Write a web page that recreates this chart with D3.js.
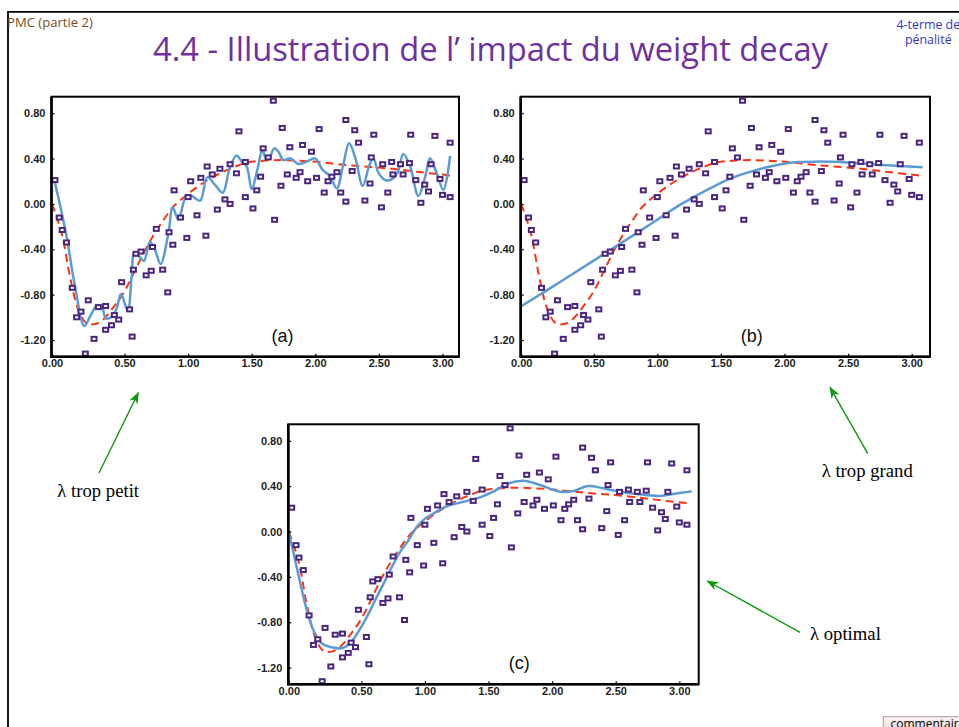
<!DOCTYPE html>
<html><head><meta charset="utf-8">
<script src="https://cdn.jsdelivr.net/npm/d3@7"></script>
<style>body{margin:0;background:#fff}</style>
</head><body><svg id="c" width="959" height="727"></svg>
<script>
// ---------- data ----------
const xTicks = [0, 0.5, 1, 1.5, 2, 2.5, 3];
const yTicks = [-1.2, -0.8, -0.4, 0, 0.4, 0.8];
const panelNames = ["(a)", "(b)", "(c)"];
const noteTexts = ["λ trop petit", "λ trop grand", "λ optimal"];

const pointX = [0.02,0.05,0.07,0.10,0.14,0.17,0.20,0.23,0.25,0.29,
0.32,0.37,0.37,0.41,0.43,0.46,0.48,0.54,0.56,0.57,
0.59,0.63,0.67,0.71,0.72,0.75,0.80,0.84,0.85,0.88,
0.89,0.94,0.99,1.00,1.02,1.07,1.10,1.14,1.15,1.19,
1.23,1.25,1.29,1.33,1.33,1.38,1.40,
1.45,1.45,1.51,1.54,1.57,1.59,1.63,1.67,1.68,1.73,
1.74,1.78,1.80,1.85,1.88,1.90,1.94,1.97,2.01,2.03,
2.07,2.10,2.13,2.17,2.20,2.24,2.24,2.29,2.31,2.34,
2.39,2.43,2.44,2.46,2.52,2.53,2.57,2.60,2.61,2.67,
2.69,2.74,2.75,2.79,2.83,2.86,2.89,2.91,2.94,2.98,
3.00,3.06,3.06];
const pointY = [0.21,-0.12,-0.23,-0.34,-0.74,-1.00,-0.95,-1.32,-0.85,-1.19,
-0.91,-0.90,-1.11,-1.07,-0.98,-1.02,-0.69,-0.93,-1.17,-0.58,
-0.44,-0.42,-0.63,-0.59,-0.38,-0.22,-0.58,-0.78,-0.25,-0.36,
0.12,-0.12,-0.30,0.06,0.20,-0.10,0.23,-0.28,0.33,0.26,
-0.05,0.31,0.04,0.35,0.00,0.27,0.64,
0.37,0.06,-0.04,0.12,0.24,0.49,0.41,0.91,-0.14,0.16,
0.67,0.26,0.50,0.23,0.28,0.52,0.20,0.46,0.23,0.66,
0.10,0.20,0.24,0.28,0.10,0.74,0.02,0.29,0.65,0.54,
0.03,0.18,0.41,0.61,-0.03,0.35,0.10,0.37,0.26,0.35,
0.26,0.36,0.61,0.21,0.01,0.17,0.11,0.35,0.60,0.22,
0.08,0.54,0.06];

// true function (red dashed)
const trueX = [0,0.067,0.124,0.182,0.239,0.297,0.354,0.423,0.492,0.569,0.648,0.726,0.805,0.884,0.989,1.094,1.225,1.356,1.461,1.591,1.723,1.854,1.985,2.116,2.247,2.378,2.508,2.639,2.770,2.901,3.079];
const trueY = [0,-0.26,-0.64,-0.935,-1.053,-1.059,-1.018,-0.912,-0.788,-0.62,-0.436,-0.28,-0.145,-0.025,0.079,0.167,0.255,0.323,0.364,0.381,0.387,0.381,0.373,0.358,0.343,0.331,0.320,0.305,0.287,0.270,0.249];

// fitted network outputs (blue)
const fitAX = [0.016,0.055,0.101,0.159,0.223,0.262,0.308,0.343,0.372,0.412,0.446,0.476,0.525,0.556,0.577,0.617,0.653,0.700,0.740,0.784,0.845,0.879,0.923,0.986,1.028,1.094,1.151,1.212,1.272,1.329,1.381,1.421,1.461,1.500,1.544,1.584,1.613,1.644,1.676,1.710,1.749,1.802,1.867,1.932,1.998,2.058,2.116,2.168,2.221,2.265,2.312,2.373,2.425,2.456,2.496,2.548,2.600,2.645,2.692,2.745,2.810,2.863,2.902,2.955,3.007,3.060];
const fitAY = [0.208,-0.009,-0.289,-0.730,-1.076,-0.994,-0.900,-0.906,-1.009,-0.994,-0.921,-0.794,-0.941,-0.641,-0.427,-0.465,-0.503,-0.333,-0.406,-0.530,-0.259,-0.030,-0.136,0.070,0.070,0.029,0.234,0.167,0.099,0.323,0.426,0.373,0.329,0.129,0.299,0.476,0.402,0.417,0.490,0.461,0.387,0.402,0.352,0.373,0.402,0.299,0.246,0.137,0.352,0.534,0.417,0.158,0.343,0.402,0.276,0.211,0.217,0.270,0.440,0.334,0.070,0.234,0.402,0.270,0.123,0.423];
const fitBX = [0.003,0.290,0.589,0.917,1.178,1.414,1.597,1.860,2.043,2.253,2.515,2.777,3.087];
const fitBY = [-0.900,-0.671,-0.436,-0.200,-0.009,0.137,0.234,0.323,0.364,0.373,0.364,0.343,0.323];
const fitCX = [0.001,0.054,0.112,0.169,0.227,0.296,0.365,0.422,0.480,0.545,0.610,0.676,0.741,0.807,0.872,0.938,1.003,1.069,1.134,1.200,1.276,1.433,1.538,1.643,1.774,1.905,2.062,2.167,2.285,2.403,2.534,2.665,2.848,2.953,3.097];
const fitCY = [-0.010,-0.310,-0.633,-0.868,-0.986,-1.021,-1.030,-0.986,-0.883,-0.751,-0.604,-0.457,-0.310,-0.177,-0.075,0.043,0.116,0.160,0.204,0.234,0.255,0.301,0.351,0.419,0.448,0.410,0.351,0.357,0.401,0.381,0.351,0.331,0.313,0.331,0.354];

// ---------- drawing ----------
const svg = d3.select("#c");
svg.append("rect").attr("width", 959).attr("height", 727).attr("fill", "#fff");

// scale a text's font size so that it spans a given width
function fitWidth(sel, target) {
  const len = sel.node().getComputedTextLength();
  const fs = +sel.attr("font-size");
  sel.attr("font-size", (fs * target / len).toFixed(2));
  return +sel.attr("font-size");
}

const defs = svg.append("defs");
defs.append("marker").attr("id", "ah").attr("viewBox", "0 0 12 10")
  .attr("refX", 11).attr("refY", 5).attr("markerWidth", 12).attr("markerHeight", 10)
  .attr("markerUnits", "userSpaceOnUse").attr("orient", "auto")
  .append("path").attr("d", "M0,0.5 L12,5 L0,9.5 L3.5,5 Z").attr("fill", "#0A9A0A");
const grad = defs.append("linearGradient").attr("id", "cg").attr("x1", 0).attr("y1", 0).attr("x2", 0).attr("y2", 1);
grad.append("stop").attr("offset", "0").attr("stop-color", "#fbf4f4");
grad.append("stop").attr("offset", "1").attr("stop-color", "#ead6d6");

// slide frame
svg.append("path").attr("d", "M8,727V11.8H959").attr("fill", "none")
  .attr("stroke", "#000").attr("stroke-width", 1.8);

const pmc = svg.append("text").attr("x", 7).attr("y", 27).attr("font-family", "Open Sans")
  .attr("font-size", 12).attr("fill", "#7A4A20").text("PMC (partie 2)");
fitWidth(pmc, 86);
const title = svg.append("text").attr("x", 490.5).attr("y", 61).attr("text-anchor", "middle")
  .attr("font-family", "Open Sans").attr("font-size", 30).attr("fill", "#7030A0")
  .text("4.4 - Illustration de l’ impact du weight decay");
fitWidth(title, 675);
const pen = svg.append("text").attr("x", 928.3).attr("y", 44).attr("text-anchor", "middle")
  .attr("font-family", "Open Sans").attr("font-size", 12).attr("fill", "#3535CC").text("pénalité");
const penFs = fitWidth(pen, 46.7);
svg.append("text").attr("x", 928.3).attr("y", 28.5).attr("text-anchor", "middle")
  .attr("font-family", "Open Sans").attr("font-size", penFs).attr("fill", "#3535CC").text("4-terme de");

const PH = 260;
const panels = [
  {left: 51.5, top: 96.7, w: 407.5, fx: fitAX, fy: fitAY},
  {left: 520.7, top: 96.7, w: 409.3, fx: fitBX, fy: fitBY},
  {left: 288.3, top: 424.3, w: 410.4, fx: fitCX, fy: fitCY}
];
const fmt = d => d.toFixed(2);

panels.forEach((p, i) => {
  const g = svg.append("g").attr("transform", `translate(${p.left},${p.top})`);
  const x = d3.scaleLinear().domain([0, 0.5, 3]).range([0.5, 73, 391]);
  const y = d3.scaleLinear().domain([-1.2, 0.8]).range([243.3, 16.5]);

  g.append("rect").attr("width", p.w).attr("height", PH).attr("fill", "#fff")
    .attr("stroke", "#000").attr("stroke-width", 2);

  const line = d3.line().x(d => x(d[0])).y(d => y(d[1])).curve(d3.curveCatmullRom.alpha(0.5));
  g.append("path").datum(d3.zip(trueX, trueY)).attr("d", line).attr("fill", "none")
    .attr("stroke", "#FF3311").attr("stroke-width", 2).attr("stroke-dasharray", "8,5");
  g.append("path").datum(d3.zip(p.fx, p.fy)).attr("d", line).attr("fill", "none")
    .attr("stroke", "#5B9BD5").attr("stroke-width", 2.5).attr("stroke-linejoin", "round");

  g.selectAll("rect.pt").data(d3.zip(pointX, pointY)).join("rect").attr("class", "pt")
    .attr("x", d => x(d[0]) - 2.5).attr("y", d => y(d[1]) - 2)
    .attr("width", 5).attr("height", 4)
    .attr("fill", "#fff").attr("stroke", "#4B2680").attr("stroke-width", 2);

  const ax = g.append("g").attr("transform", `translate(0,${PH})`)
    .call(d3.axisBottom(x).tickValues(xTicks).tickFormat(fmt).tickSizeInner(-3).tickSizeOuter(0).tickPadding(3));
  const ay = g.append("g")
    .call(d3.axisLeft(y).tickValues(yTicks).tickFormat(fmt).tickSizeInner(-3).tickSizeOuter(0).tickPadding(6));
  [ax, ay].forEach(a => {
    a.select(".domain").remove();
    a.selectAll("text").attr("font-family", "Liberation Sans, Arial").attr("font-size", 11)
      .attr("font-weight", "bold").attr("fill", "#1e1e1e");
    a.selectAll("line").attr("stroke", "#000").attr("stroke-width", 1.2);
  });
  g.append("path").attr("d", `M0,0V${PH}H${p.w}`).attr("fill", "none")
    .attr("stroke", "#000").attr("stroke-width", 2.6);

  g.append("text").attr("x", 231).attr("y", 245).attr("text-anchor", "middle")
    .attr("font-family", "Liberation Sans, Arial").attr("font-size", 18).attr("fill", "#111")
    .text(panelNames[i]);
});

// annotations
const notes = [
  {tx: 57.3, ty: 497, x1: 99, y1: 473, x2: 138.3, y2: 392.7},
  {tx: 821.7, ty: 477, x1: 867.7, y1: 453.3, x2: 830, y2: 387.3},
  {tx: 810, ty: 640, x1: 800, y1: 632.3, x2: 707.3, y2: 581}
];
notes.forEach((n, i) => {
  svg.append("line").attr("x1", n.x1).attr("y1", n.y1).attr("x2", n.x2).attr("y2", n.y2)
    .attr("stroke", "#0A9A0A").attr("stroke-width", 1.4).attr("marker-end", "url(#ah)");
  svg.append("text").attr("x", n.tx).attr("y", n.ty).attr("font-family", "Liberation Serif, Times New Roman")
    .attr("font-size", 18.7).attr("fill", "#000").text(noteTexts[i]);
});

// comment box
svg.append("rect").attr("x", 883.3).attr("y", 716.7).attr("width", 80).attr("height", 16)
  .attr("fill", "url(#cg)").attr("stroke", "#a89a9a").attr("stroke-width", 1);
svg.append("text").attr("x", 890.5).attr("y", 728).attr("font-family", "Open Sans")
  .attr("font-size", 12).attr("fill", "#000").text("commentaire");
</script></body></html>
